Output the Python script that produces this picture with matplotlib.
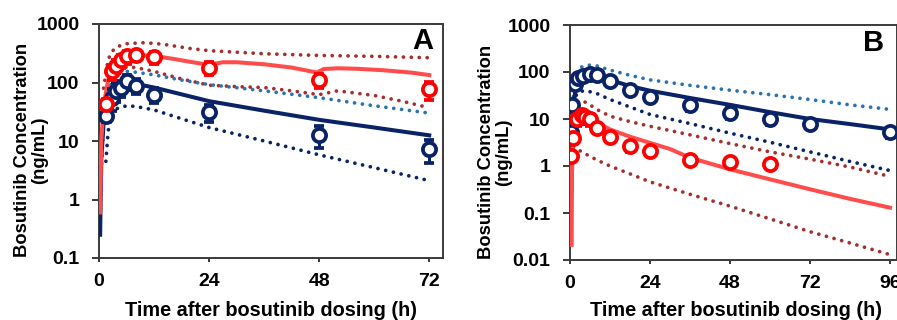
import matplotlib
matplotlib.use('Agg')
import matplotlib.pyplot as plt
from matplotlib.ticker import FixedLocator, NullLocator

plt.rcParams['font.family'] = ['Liberation Sans', 'DejaVu Sans']
plt.rcParams['font.weight'] = 'bold'

# colours
RED = '#FF0000'
RED_LINE = '#FF4D4D'
NAVY = '#0A2366'
TEAL = '#2A73B0'
BROWN = '#A3302E'

# ---------------- panel A data ----------------
a_red_t = [1.5, 2.75, 3.75, 4.75, 6, 8, 12, 24, 48, 72]
a_red_y = [43, 155, 195, 240, 280, 290, 270, 180, 112, 76]
a_red_e = [10, 45, 50, 60, 70, 60, 60, 45, 30, 25]
a_blue_t = [1.5, 2.75, 3.75, 4.75, 6, 8, 12, 24, 48, 72]
a_blue_y = [27, 55, 72, 82, 105, 88, 62, 31, 12.7, 7.2]
a_blue_e = [6, 22, 25, 25, 30, 25, 18, 10, 5, 3]

a_red_med_t = [0.25, 0.5, 1, 2, 3, 4, 6, 8, 12, 16, 20, 24, 27, 30, 36, 42, 47.5, 49, 52, 56, 62, 68, 72]
a_red_med_y = [0.6, 10, 40, 110, 180, 230, 280, 295, 285, 255, 225, 200, 222, 222, 205, 180, 148, 170, 175, 172, 162, 148, 134]
a_blue_med_t = [0.25, 0.5, 1, 2, 3, 4, 6, 8, 12, 24, 36, 48, 60, 72]
a_blue_med_y = [0.25, 5, 20, 50, 75, 90, 100, 95, 82, 48, 33, 23, 17, 12.5]

a_red_hi_t = [1, 2, 3, 4, 6, 10, 14, 20, 24, 36, 48, 60, 72]
a_red_hi_y = [80, 250, 350, 410, 460, 480, 450, 380, 350, 310, 290, 280, 265]
a_red_lo_t = [1, 2, 3, 4, 6, 8, 12, 18, 24, 30, 36, 42, 48, 52, 60, 66, 72]
a_red_lo_y = [20, 60, 110, 150, 185, 180, 155, 115, 90, 85, 82, 72, 62, 72, 60, 48, 37]
a_blue_hi_t = [0.5, 1, 2, 3, 4, 6, 8, 12, 18, 24, 36, 48, 60, 72]
a_blue_hi_y = [3, 20, 70, 110, 140, 155, 150, 135, 110, 92, 72, 55, 40, 30]
a_blue_lo_t = [1.5, 2, 3, 4, 6, 8, 12, 18, 24, 36, 48, 60, 72]
a_blue_lo_y = [4.5, 15, 30, 36, 40, 39, 34, 24, 17, 10, 5.8, 3.5, 2.1]

# ---------------- panel B data ----------------
b_red_t = [0.25, 1, 2, 3.5, 4.5, 6, 8, 12, 18, 24, 36, 48, 60]
b_red_y = [1.65, 4, 10, 12, 11, 10, 6.5, 4.2, 2.6, 2.1, 1.35, 1.2, 1.1]
b_red_e = [0.3, 0.8, 3, 3, 3, 3, 1.5, 1, 0.6, 0.4, 0.25, 0.2, 0.15]
b_blue_t = [0.25, 0.5, 1.5, 2.5, 4, 6, 8, 12, 18, 24, 36, 48, 60, 72, 96]
b_blue_y = [5.2, 20, 55, 75, 82, 92, 85, 63, 42, 30, 20, 13.5, 10, 8, 5.2]
b_blue_e = [1, 4, 12, 15, 15, 15, 15, 12, 10, 7, 5, 3.5, 2.5, 2, 1.3]

b_red_med_t = [0.5, 0.6, 1, 2, 3, 4, 6, 8, 12, 18, 24, 30, 36, 48, 60, 72, 84, 96]
b_red_med_y = [0.021, 1, 6, 11, 12, 11.5, 10, 8.5, 6, 4.2, 3.1, 2.3, 1.5, 0.85, 0.52, 0.32, 0.2, 0.13]
b_blue_med_t = [0.5, 1, 2, 3, 4, 6, 8, 12, 18, 24, 36, 48, 60, 72, 84, 96]
b_blue_med_y = [0.3, 20, 60, 85, 95, 100, 90, 68, 50, 40, 28, 20, 14, 10, 7.8, 6]

b_blue_hi_t = [1, 2, 3, 4, 6, 8, 12, 18, 24, 36, 48, 60, 72, 84, 96]
b_blue_hi_y = [30, 90, 120, 135, 140, 135, 110, 85, 68, 52, 41, 33, 26, 20, 16]
b_blue_lo_t = [1, 2, 4, 6, 8, 12, 18, 24, 36, 48, 60, 72, 84, 96]
b_blue_lo_y = [15, 35, 40, 38, 35, 26, 18, 12.5, 8, 5, 3.2, 2, 1.25, 0.8]
b_red_hi_t = [1, 2, 3, 4, 6, 8, 12, 18, 24, 36, 48, 60, 72, 84, 96]
b_red_hi_y = [5, 20, 25, 24, 20, 16, 11.5, 8.8, 7, 4.6, 3.0, 2.0, 1.4, 0.95, 0.6]
b_red_lo_t = [1, 2, 3, 6, 8, 12, 18, 24, 36, 48, 60, 72, 84, 96]
b_red_lo_y = [2.5, 2.4, 2.1, 1.6, 1.35, 1.0, 0.68, 0.46, 0.25, 0.14, 0.075, 0.04, 0.023, 0.013]

dot = (0, (0.01, 2.1))


def draw_panel(ax, dotted, solids, obs, xticks, xlim, ylim, yticks, letter, lx, ly):
    for t, y, c in dotted:
        ax.plot(t, y, color=c, lw=2.7, linestyle=dot, dash_capstyle='round', zorder=2)
    for t, y, c in solids:
        ax.plot(t, y, color=c, lw=2.9, zorder=3)
    for t, y, e, c in obs:
        ax.errorbar(t, y, yerr=e, fmt='o', color=c, mfc='white', mec=c, ms=9.5, mew=2.7,
                    elinewidth=2.2, capsize=3.5, capthick=2.2, zorder=4)
    ax.set_yscale('log')
    ax.set_xlim(*xlim)
    ax.set_ylim(*ylim)
    ax.xaxis.set_major_locator(FixedLocator(xticks))
    ax.set_xticklabels([str(x) for x in xticks])
    ax.yaxis.set_major_locator(FixedLocator(yticks))
    ax.yaxis.set_minor_locator(NullLocator())
    ax.set_yticklabels([('%g' % v) for v in yticks])
    for s in ax.spines.values():
        s.set_color('#3a3a3a')
        s.set_linewidth(1.4)
    ax.tick_params(axis='y', direction='out', length=5, width=1.4, pad=9, labelsize=14,
                   color='#3a3a3a')
    ax.tick_params(axis='x', direction='out', length=3, width=1.4, pad=8, labelsize=14,
                   color='#3a3a3a')
    for lab in ax.get_xticklabels() + ax.get_yticklabels():
        lab.set_fontweight('bold')
    ax.text(lx, ly, letter, transform=ax.transAxes, fontsize=21, fontweight='bold',
            ha='center', va='center')


fig = plt.figure(figsize=(8.97, 3.2), dpi=100)
axA = fig.add_axes([99 / 897, 62 / 320, 344 / 897, 234 / 320])
axB = fig.add_axes([570 / 897, 60 / 320, 327 / 897, 235 / 320])

draw_panel(axA,
           [(a_red_hi_t, a_red_hi_y, BROWN), (a_red_lo_t, a_red_lo_y, BROWN),
            (a_blue_hi_t, a_blue_hi_y, TEAL), (a_blue_lo_t, a_blue_lo_y, NAVY)],
           [(a_blue_med_t, a_blue_med_y, NAVY), (a_red_med_t, a_red_med_y, RED_LINE)],
           [(a_blue_t, a_blue_y, a_blue_e, NAVY), (a_red_t, a_red_y, a_red_e, RED)],
           [0, 24, 48, 72], (0, 75), (0.1, 1000), [0.1, 1, 10, 100, 1000], 'A', 0.942, 0.927)

draw_panel(axB,
           [(b_red_hi_t, b_red_hi_y, BROWN), (b_red_lo_t, b_red_lo_y, BROWN),
            (b_blue_hi_t, b_blue_hi_y, TEAL), (b_blue_lo_t, b_blue_lo_y, NAVY)],
           [(b_blue_med_t, b_blue_med_y, NAVY), (b_red_med_t, b_red_med_y, RED_LINE)],
           [(b_blue_t, b_blue_y, b_blue_e, NAVY), (b_red_t, b_red_y, b_red_e, RED)],
           [0, 24, 48, 72, 96], (0, 98.1), (0.01, 1000), [0.01, 0.1, 1, 10, 100, 1000], 'B', 0.929, 0.923)

ylab = 'Bosutinib Concentration\n(ng/mL)'
fig.text(31 / 897, 1 - 150 / 320, ylab, rotation=90, ha='center', va='center',
         multialignment='center', fontsize=13.2, fontweight='bold', linespacing=1.05)
fig.text(495 / 897, 1 - 152 / 320, ylab, rotation=90, ha='center', va='center',
         multialignment='center', fontsize=13.2, fontweight='bold', linespacing=1.05)
xlab = 'Time after bosutinib dosing (h)'
fig.text(271 / 897, 1 - 311 / 320, xlab, ha='center', va='center', fontsize=14.3, fontweight='bold')
fig.text(736 / 897, 1 - 311 / 320, xlab, ha='center', va='center', fontsize=14.3, fontweight='bold')

fig.savefig('out.png', dpi=100)
